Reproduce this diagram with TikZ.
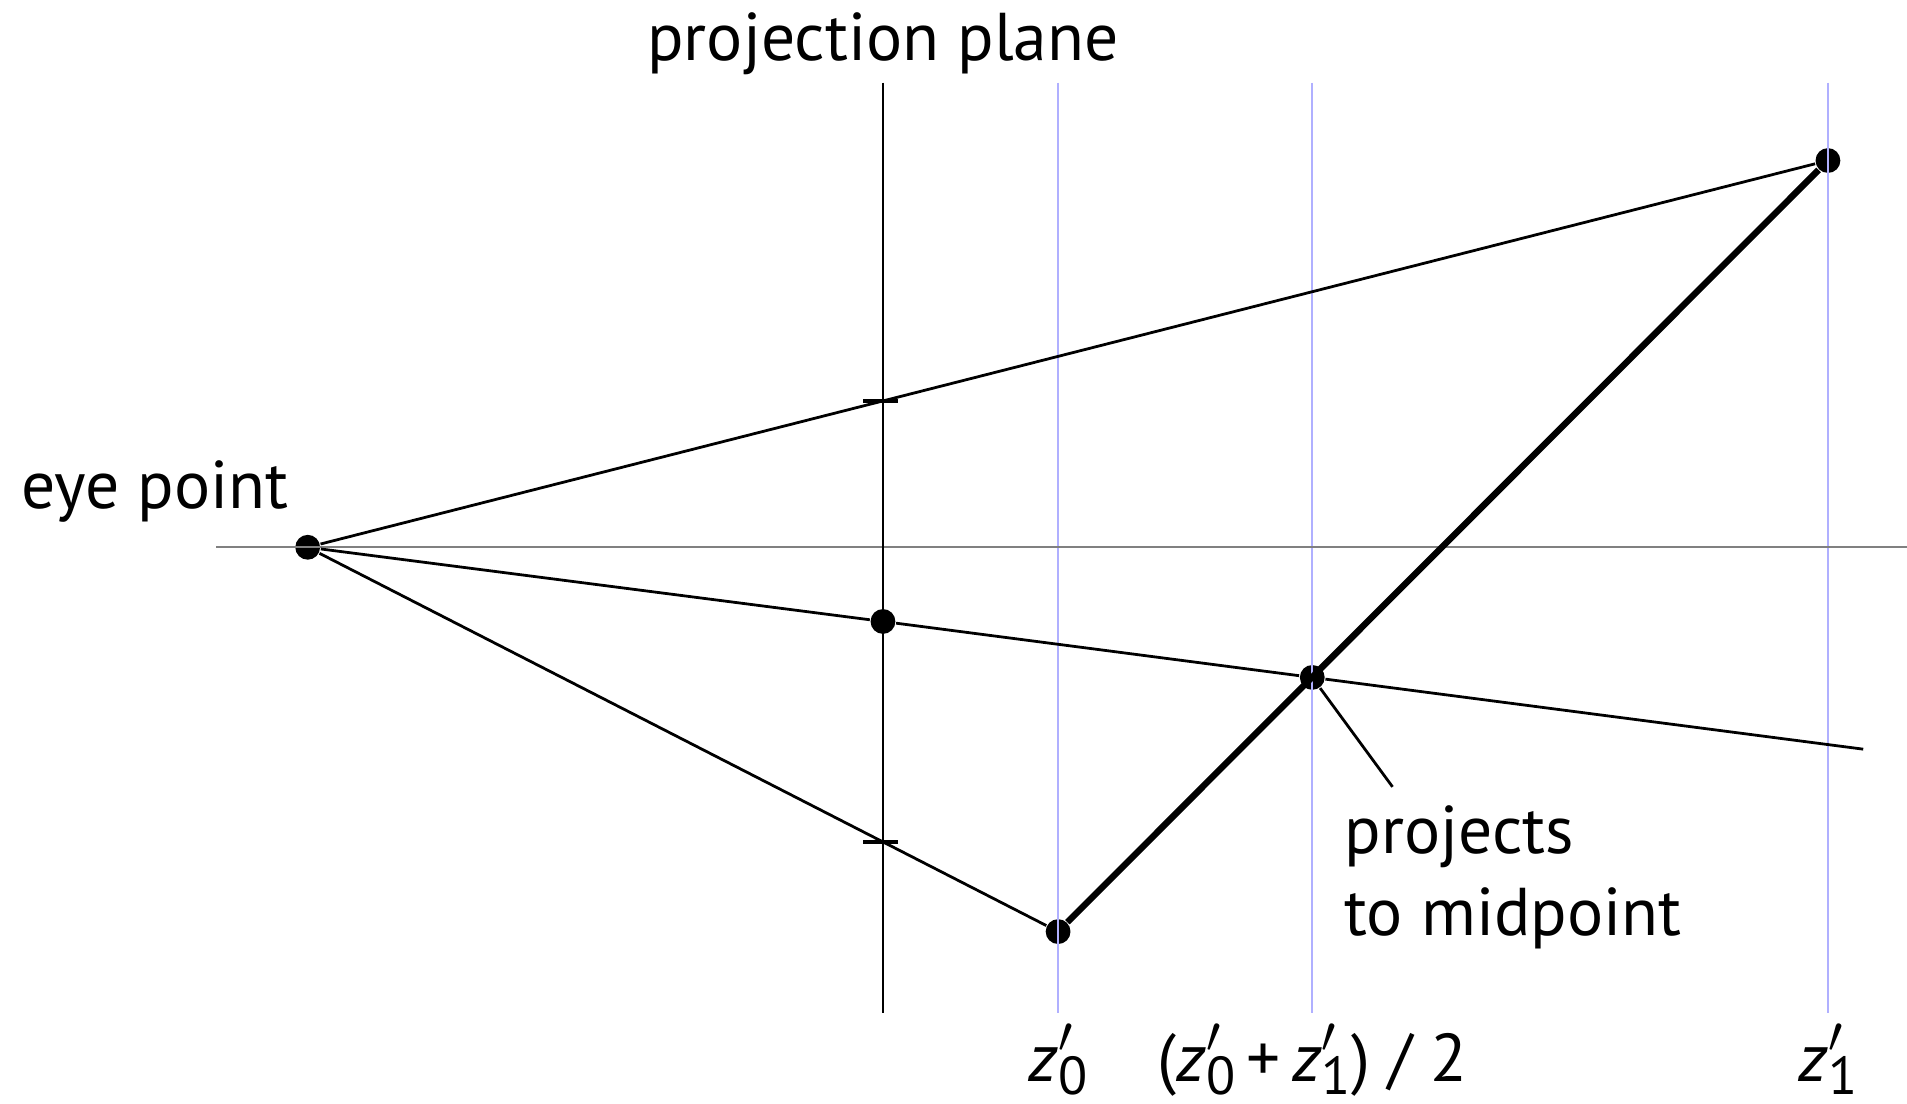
\documentclass[tikz,border=0pt]{standalone}
\usepackage{fontspec}
\setmainfont{PT Sans}
\usetikzlibrary{positioning}
\newcommand{\zp}[1]{\textit{z}\makebox[0pt][l]{\raisebox{0.42em}{\fontsize{12}{12}\selectfont$\prime$}}\raisebox{-0.19em}{\fontsize{12.5}{12.5}\selectfont #1}}
\begin{document}
\begin{tikzpicture}[
    x=0.01cm, y=-0.01cm,
    font=\fontsize{15.8}{19}\selectfont,
    punto/.style={circle,fill=black,inner sep=0pt,minimum size=5.8pt},
    raggio/.style={line width=0.65pt},
    segmento/.style={line width=1.5pt},
    guida/.style={line width=0.5pt,draw={rgb,255:red,176;green,176;blue,255}},
    asse/.style={line width=0.5pt,draw=gray},
    piano/.style={line width=0.6pt},
    tacca/.style={line width=0.9pt}]

  \useasboundingbox (0,0) rectangle (1568,907);

  % punti principali
  \node[punto] (occhio) at (253,450) {};
  \node[punto] (lontano) at (1503,132) {};
  \node[punto] (vicino) at (870,766) {};
  \node[punto] (medio) at (1079,557) {};
  \node[punto] (proiez) at (726,511) {};

  % estremi delle linee
  \coordinate (asseA) at (178,450);
  \coordinate (asseB) at (1568,450);
  \coordinate (pianoA) at (726,68);
  \coordinate (pianoB) at (726,833);
  \coordinate (fine) at (1532,616);
  \coordinate (leader) at (1145,647);
  \coordinate (taccaSu) at (724,329.7);
  \coordinate (taccaGiu) at (724,692);

  % linee guida azzurre
  \draw[guida] (870,68) coordinate (g0) -- (870,833) coordinate (g0b);
  \draw[guida] (1079,68) coordinate (g1) -- (1079,833) coordinate (g1b);
  \draw[guida] (1503,68) coordinate (g2) -- (1503,833) coordinate (g2b);

  \draw[asse] (asseA) -- (asseB);
  \draw[piano] (pianoA) -- (pianoB);

  % raggi dall'occhio
  \draw[raggio] (occhio) -- (lontano);
  \draw[raggio] (occhio) -- (vicino);
  \draw[raggio] (occhio) -- (proiez) -- (medio) -- (fine);
  \draw[segmento] (vicino) -- (lontano);
  \draw[raggio] (medio) -- (leader);

  \draw[tacca] ([xshift=-0.14cm]taccaSu) -- ([xshift=0.14cm]taccaSu);
  \draw[tacca] ([xshift=-0.14cm]taccaGiu) -- ([xshift=0.14cm]taccaGiu);

  % etichette
  \node[anchor=base] (lpiano) at (726,50) {projection plane};
  \node[anchor=base west,inner sep=0pt] (locchio) at (17,418) {eye point};
  \node[anchor=north west,inner sep=0pt,align=left] (lmedio) at (1105,662)
       {projects\\to midpoint};
  \node[anchor=base] (lz0) at (870,889) {\zp{0}};
  \node[anchor=base] (lzm) at (1079,889) {(\zp{0}\,+\,\zp{1}) / 2};
  \node[anchor=base] (lz1) at (1503,889) {\zp{1}};

\end{tikzpicture}
\end{document}
